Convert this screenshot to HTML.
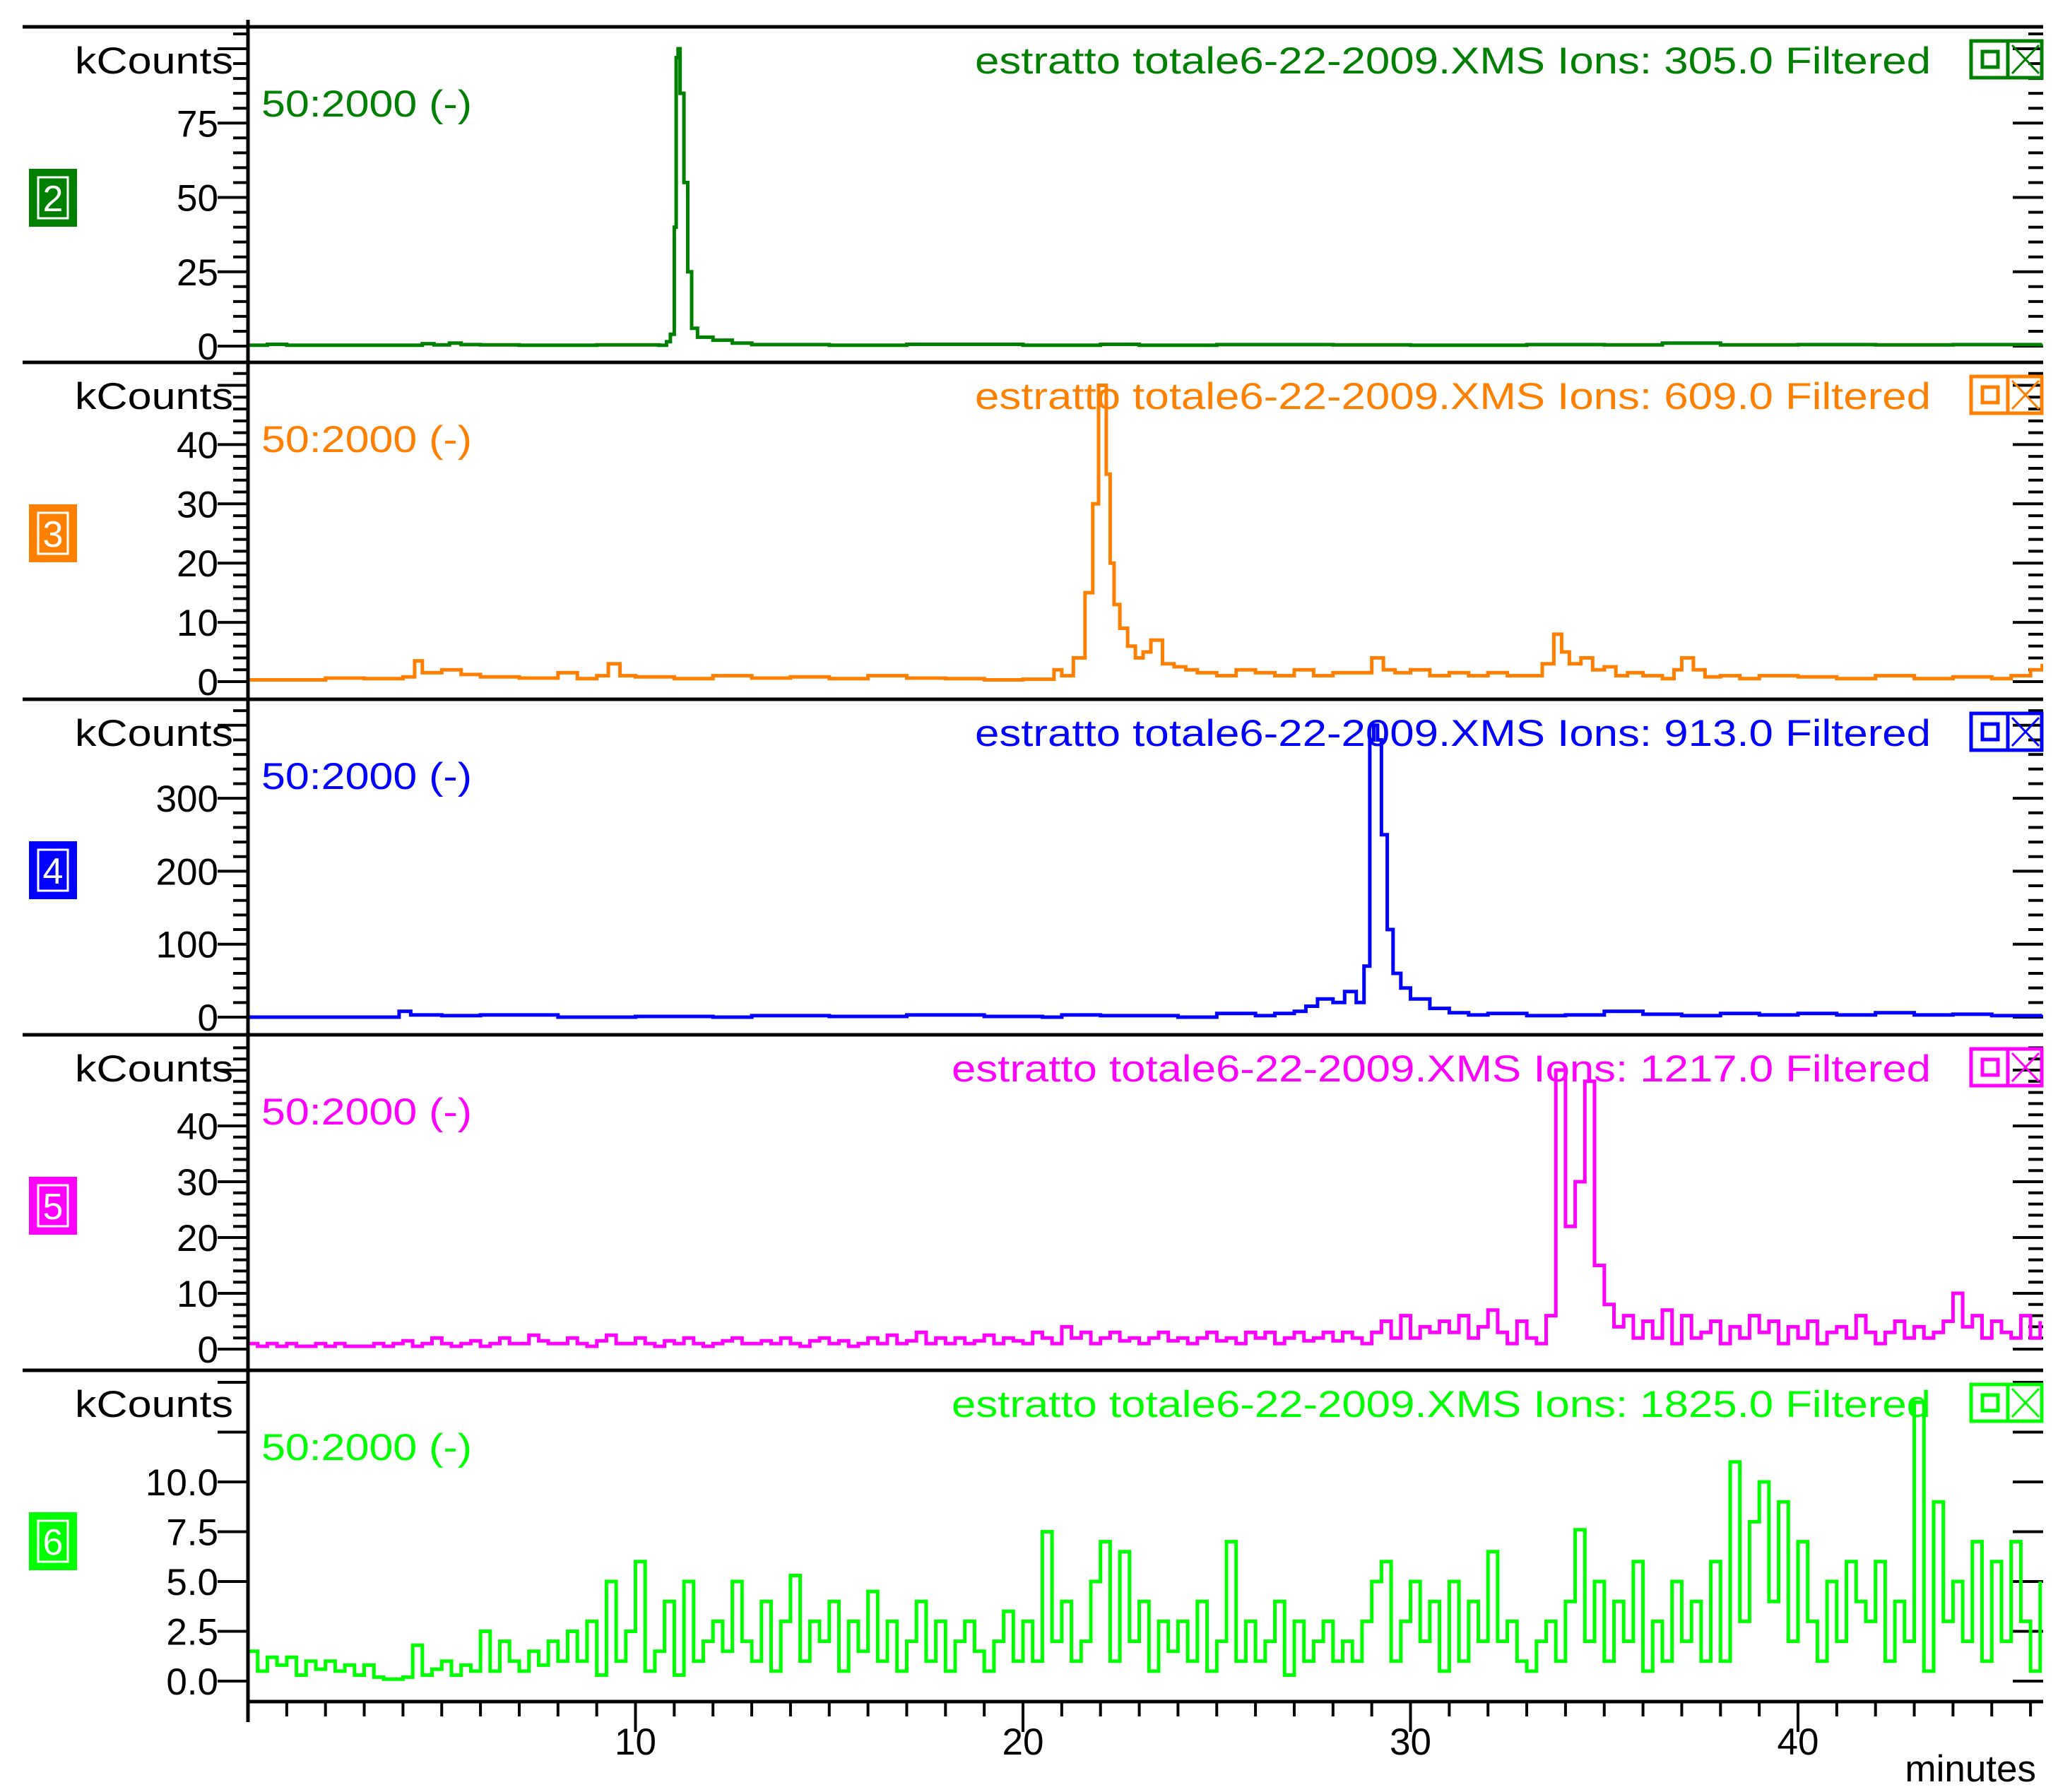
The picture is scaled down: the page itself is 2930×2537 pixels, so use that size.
<!DOCTYPE html>
<html><head><meta charset="utf-8"><style>
html,body{margin:0;padding:0;background:#fff;}
svg{display:block;font-family:"Liberation Sans",sans-serif;}
</style></head><body>
<svg id="chart" xmlns="http://www.w3.org/2000/svg" width="2930" height="2537" viewBox="0 0 2930 2537"></svg>
<script>
// ---- data ----
const xTicksMajor = [10, 20, 30, 40];
const xTickLabels = ["10", "20", "30", "40"];
const panelIds = ["2", "3", "4", "5", "6"];
const panelColors = ["#008000", "#ff8000", "#0000ff", "#ff00ff", "#00ff00"];
const panelIons = ["305.0", "609.0", "913.0", "1217.0", "1825.0"];

const yMajor1 = [0, 25, 50, 75];
const yMajor2 = [0, 10, 20, 30, 40];
const yMajor3 = [0, 100, 200, 300];
const yMajor4 = [0, 10, 20, 30, 40];
const yMajor5 = [0, 2.5, 5, 7.5, 10, 12.5, 15];
const yLabels5 = ["0.0", "2.5", "5.0", "7.5", "10.0", "", ""];

const t1 = [0,0.5,1,1.5,2,4.5,4.8,5.2,5.5,6, 7,8,9,10,10.6,10.8,10.9,11.0,11.05,11.1,
 11.15,11.25,11.35,11.45,11.6,12,12.5,13,14,15, 17,20,22,23,25,28,30,33,35,36.5, 38,40,42,44,46.3];
const v1 = [0.3,0.6,0.3,0.3,0.3,0.8,0.4,1,0.5,0.4, 0.3,0.3,0.4,0.4,0.3,1.5,4,40,97,100,
 85,55,25,6,3,2,1,0.5,0.5,0.3, 0.6,0.3,0.6,0.3,0.5,0.4,0.3,0.5,0.4,1, 0.4,0.5,0.4,0.5,0.6];

const t2 = [0,1,2,3,4,4.3,4.5,5,5.5,6, 7,8,8.5,9,9.3,9.6,10,11,12,13, 14,15,16,17,18,19,20,20.8,21,21.3,
 21.6,21.8,21.95,22.05,22.15,22.25,22.35,22.5,22.7,22.9, 23.1,23.3,23.6,23.9,24.2,24.5,25,25.5,26,26.5,
 27,27.5,28,28.5,29,29.3,29.6,30,30.5,31, 31.5,32,32.5,33,33.4,33.7,33.9,34.1,34.4,34.7,
 35,35.3,35.6,36,36.5,36.8,37,37.3,37.6,38, 38.5,39,40,41,42,43,44,45,45.5,46,46.3];
const v2 = [0.3,0.3,0.6,0.5,0.8,3.5,1.5,2,1.2,0.8, 0.6,1.5,0.5,1,3,1,0.8,0.5,1,0.6, 0.8,0.5,1,0.6,0.5,0.3,0.4,2,1,4,
 15,30,50,50,35,20,13,9,6,4, 5,7,3,2.5,2,1.5,1,2,1.5,1, 2,1,1.5,1.5,4,2,1.5,2,1,1.5, 1,1.5,1,1,3,8,5,3,4,2,
 2.5,1,1.5,1,0.5,2,4,2,0.8,1, 0.5,1,0.8,0.5,1,0.5,0.8,0.5,1,2,3];

const t3 = [0,2,3.7,3.9,4.2,5,6,8,10,12, 13,15,17,19,20.5,21,22,24,25,26, 26.5,27,27.3,27.6,28,28.3,28.6,28.8,28.95,29.05,
 29.15,29.25,29.4,29.55,29.75,30,30.5,31,31.5,32, 33,34,35,36,37,38,39,40,41,42, 43,44,45,46.3];
const v3 = [0,0,0,8,3,2,3,0,1,0, 2,1,3,1,0,3,2,0,5,2, 5,8,15,25,20,35,20,70,380,400,
 380,250,120,60,40,25,12,6,3,5, 2,3,8,4,2,5,3,5,3,6, 3,4,2,3];

const step4 = 0.25;
const v4 = [1,0.5,1,0.5, 1,0.5,0.5,1, 0.5,1,0.5,0.5, 0.5,1,0.5,1, 1.5,0.5,1,2, 1,0.5,1,1.5, 0.5,1,2,1, 1,2.5,1.5,1,
 1,2,1,0.5, 1.5,2.5,1,1, 2,1,0.5,1.5, 1,2,1,0.5, 1,1.5,2,1, 1,1.5,1,2, 1,0.5,1.5,2, 1,1.5,0.5,1, 2,1,2.5,1,
 1.5,3,1,2, 1,2,1,1.5, 2.5,1,2,1.5, 1,3,2,1, 4,2,3,1, 2,3,1.5,2, 1,2,3,1.5, 2,1,2,3, 1.5,2,1,3, 2,3,1,2,
 3,1.5,2,3, 1.5,3,2,1, 3,5,2,6, 2,4,3,5, 3,6,2,4, 7,3,1,5, 2,1,6,50, 22,30,48,15, 8,4,6,2, 5,2,7,1,
 6,2,3,5, 1,4,2,6, 3,5,1,4, 2,5,1,3, 4,2,6,3, 1,3,5,2, 4,2,3,5, 10,4,6,2, 5,3,2,6, 2,5];

const step5 = 0.25;
const v5 = [1.5,0.5,1.2,0.8, 1.2,0.3,1,0.6, 1,0.5,0.8,0.3, 0.8,0.2,0.1,0.1, 0.2,1.8,0.3,0.6, 1,0.3,0.8,0.5,
 2.5,0.5,2,1, 0.5,1.5,0.8,2, 1,2.5,1,3, 0.3,5,1,2.5, 6,0.5,1.5,4, 0.3,5,1,2, 3,1.5,5,2, 1,4,0.5,3,
 5.3,1,3,2, 4,0.5,3,1.5, 4.5,1,3,0.5, 2,4,1,3, 0.5,2,3,1.5, 0.5,2,3.5,1, 3,1,7.5,2, 4,1,2,5,
 7,1,6.5,2, 4,0.5,3,1.5, 3,1,4,0.5, 2,7,1,3, 1,2,4,0.3, 3,1,2,3, 1,2,1,3, 5,6,1,3, 5,2,4,0.5,
 5,1,4,2, 6.5,2,3,1, 0.5,2,3,1, 4,7.6,2,5, 1,4,2,6, 0.5,3,1,5, 2,4,1,6, 1,11,3,8, 10,4,9,2,
 7,3,1,5, 2,6,4,3, 6,1,4,2, 14,0.5,9,3, 5,2,7,1, 6,2,7,3, 0.5,5];

// ---- layout ----
const NS = "http://www.w3.org/2000/svg";
const svg = document.getElementById("chart");
const X0 = 351, PXMIN = 54.85, XR = 2892, XL = 32;
const seps = [38, 513, 990, 1465, 1940];
const bottomY = 2409;
const zeros = [490, 965, 1440, 1910, 2380];
const perUnit = [4.21, 8.39, 1.033, 7.9, 28.2];
const minorSteps = [5, 2, 20, 2, 0];
const majorsList = [yMajor1, yMajor2, yMajor3, yMajor4, yMajor5];
const xs = t => X0 + t * PXMIN;
function mk(tag, attrs, parent) {
  const e = document.createElementNS(NS, tag);
  for (const k in attrs) e.setAttribute(k, attrs[k]);
  (parent || svg).appendChild(e);
  return e;
}
const defs = mk("defs", {});

const seriesT = [t1, t2, t3, null, null];
const seriesV = [v1, v2, v3, v4, v5];
const seriesStep = [0, 0, 0, step4, step5];

for (let p = 0; p < 5; p++) {
  const top = seps[p], bot = p < 4 ? seps[p + 1] : bottomY;
  const col = panelColors[p];
  const ys = v => zeros[p] - v * perUnit[p];
  const g = mk("g", {});
  
  

  const cp = mk("clipPath", {id: "clip" + p}, defs);
  mk("rect", {x: X0, y: top + 2, width: XR - X0, height: bot - top - 4}, cp);

  const sl = mk("line", {x1: XL, y1: top, x2: XR, y2: top, stroke: "#000", "stroke-width": 5}, g);
  
  

  const majors = majorsList[p];
  const topVal = (zeros[p] - top) / perUnit[p];
  const ms = minorSteps[p];
  if (ms > 0) {
    for (let v = 0; v <= topVal; v += ms) {
      const isMaj = Math.abs(v / (ms * 5) - Math.round(v / (ms * 5))) < 1e-6;
      const L = isMaj ? 43 : 21;
      const yy = ys(v);
      if (yy < top + 3) continue;
      const tl = mk("line", {x1: X0 - L, y1: yy, x2: X0, y2: yy, stroke: "#000", "stroke-width": 4}, g);
      
      
      const tr = mk("line", {x1: XR - L, y1: yy, x2: XR, y2: yy, stroke: "#000", "stroke-width": 4}, g);
      
      
    }
  } else {
    majors.forEach(v => {
      const yy = ys(v);
      if (yy < top + 3) return;
      const tl = mk("line", {x1: X0 - 43, y1: yy, x2: X0, y2: yy, stroke: "#000", "stroke-width": 4}, g);
      
      
      const tr = mk("line", {x1: XR - 43, y1: yy, x2: XR, y2: yy, stroke: "#000", "stroke-width": 4}, g);
      
      
    });
  }
  majors.forEach((v, i) => {
    const lab = p === 4 ? yLabels5[i] : String(v);
    if (!lab) return;
    const tx = mk("text", {x: 309, y: ys(v) + 19, "text-anchor": "end", "font-size": 53, fill: "#000"}, g);
    tx.textContent = lab;
    
    
  });

  const kc = mk("text", {x: 106, y: top + 66, "font-size": 53, fill: "#000", textLength: 224, lengthAdjust: "spacingAndGlyphs"}, g);
  kc.textContent = "kCounts";
  
  

  const rl = mk("text", {x: 370, y: top + 127, "font-size": 53, fill: col, textLength: 298, lengthAdjust: "spacingAndGlyphs"}, g);
  rl.textContent = "50:2000 (-)";
  
  

  const tStart = (p >= 3) ? 1347 : 1380;
  const tt = mk("text", {x: tStart, y: top + 66, "font-size": 53, fill: col, textLength: 2733 - tStart, lengthAdjust: "spacingAndGlyphs"}, g);
  tt.textContent = "estratto totale6-22-2009.XMS Ions: " + panelIons[p] + " Filtered";
  
  

  const ib = mk("g", {}, g);
  
  
  mk("rect", {x: 2790, y: top + 20, width: 100, height: 52, fill: "none", stroke: col, "stroke-width": 5}, ib);
  mk("line", {x1: 2842, y1: top + 20, x2: 2842, y2: top + 72, stroke: col, "stroke-width": 5}, ib);
  mk("rect", {x: 2806, y: top + 35, width: 22, height: 22, fill: "none", stroke: col, "stroke-width": 5}, ib);
  mk("line", {x1: 2848, y1: top + 26, x2: 2886, y2: top + 66, stroke: col, "stroke-width": 3}, ib);
  mk("line", {x1: 2886, y1: top + 26, x2: 2848, y2: top + 66, stroke: col, "stroke-width": 3}, ib);

  const bg = mk("g", {}, g);
  
  
  const by = top + 201;
  mk("rect", {x: 41, y: by, width: 68, height: 82, fill: col}, bg);
  mk("rect", {x: 54, y: by + 12, width: 42, height: 58, fill: "none", stroke: "#fff", "stroke-width": 3}, bg);
  const bt = mk("text", {x: 75, y: by + 60, "text-anchor": "middle", "font-size": 52, fill: "#fff"}, bg);
  bt.textContent = panelIds[p];

  // trace (stepped, like the instrument plot)
  const V = seriesV[p];
  let pts = [];
  for (let i = 0; i < V.length; i++) {
    const t = seriesT[p] ? seriesT[p][i] : i * seriesStep[p];
    if (t === undefined) break;
    const x = xs(t).toFixed(1);
    if (i > 0) pts.push(x + "," + ys(V[i - 1]).toFixed(1));
    pts.push(x + "," + ys(V[i]).toFixed(1));
  }
  const pl = mk("polyline", {points: pts.join(" "), fill: "none", stroke: col, "stroke-width": 5, "stroke-linejoin": "miter", "clip-path": "url(#clip" + p + ")"}, g);
  
  
}

const ya = mk("line", {x1: X0, y1: 28, x2: X0, y2: 2438, stroke: "#000", "stroke-width": 5});


const xa = mk("line", {x1: X0, y1: bottomY, x2: XR, y2: bottomY, stroke: "#000", "stroke-width": 5});


for (let m = 1; m <= 46; m++) {
  const isMaj = xTicksMajor.indexOf(m) >= 0;
  const tk = mk("line", {x1: xs(m), y1: bottomY, x2: xs(m), y2: bottomY + (isMaj ? 43 : 21), stroke: "#000", "stroke-width": 4});
  
  
}
xTicksMajor.forEach((m, i) => {
  const tx = mk("text", {x: xs(m), y: 2484, "text-anchor": "middle", "font-size": 53, fill: "#000"});
  tx.textContent = xTickLabels[i];
  
  
});
const xt = mk("text", {x: 2882, y: 2522, "text-anchor": "end", "font-size": 53, fill: "#000"});
xt.textContent = "minutes";


</script>
</body></html>
